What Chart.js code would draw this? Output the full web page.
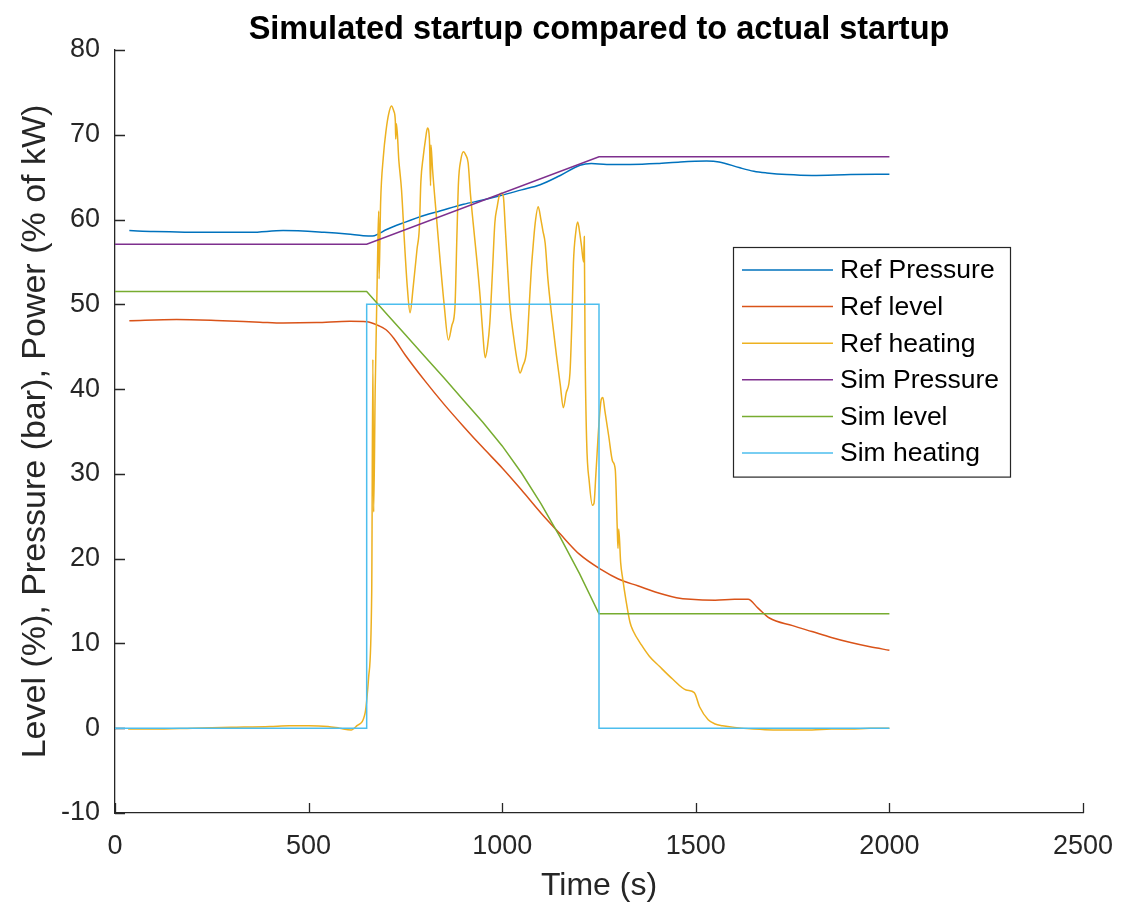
<!DOCTYPE html>
<html>
<head>
<meta charset="utf-8">
<title>Simulated startup compared to actual startup</title>
<script src="https://cdn.jsdelivr.net/npm/chart.js@4.4.1/dist/chart.umd.min.js"></script>
<style>
  html, body { margin: 0; padding: 0; background: #ffffff; }
  #wrap { width: 1124px; height: 913px; }
</style>
</head>
<body>
<div id="wrap"><canvas id="c" width="1124" height="913"></canvas></div>
<script>
// ---- data (time in s, values in %, bar or % of kW) ----
const refPressureT = [37, 100, 245, 350, 434, 540, 600, 641, 665, 680, 700, 750, 800, 839, 900, 950, 994, 1050, 1098, 1150, 1201, 1230, 1270, 1330, 1400, 1460, 1528, 1560, 1614, 1650, 1683, 1735, 1800, 1900, 2000];
const refPressureV = [58.7, 58.6, 58.5, 58.5, 58.7, 58.5, 58.3, 58.1, 58.05, 58.3, 58.8, 59.7, 60.5, 61.0, 61.8, 62.3, 62.8, 63.5, 64.1, 65.2, 66.4, 66.6, 66.5, 66.5, 66.6, 66.8, 66.9, 66.8, 66.1, 65.7, 65.5, 65.3, 65.2, 65.3, 65.35];

const refLevelT = [37, 159, 260, 374, 434, 520, 607, 650, 680, 700, 720, 750, 800, 850, 900, 950, 1000, 1050, 1100, 1150, 1200, 1256, 1300, 1350, 1415, 1450, 1487, 1550, 1600, 1635, 1660, 1690, 1750, 1800, 1850, 1900, 1950, 2000];
const refLevelV = [48.07, 48.2, 48.1, 47.9, 47.8, 47.85, 48.0, 47.95, 47.5, 47.0, 46.0, 44.0, 41.0, 38.2, 35.6, 33.1, 30.7, 28.1, 25.4, 22.9, 20.5, 18.7, 17.6, 16.8, 15.8, 15.4, 15.2, 15.1, 15.2, 15.2, 14.2, 13.0, 12.1, 11.4, 10.7, 10.1, 9.6, 9.2];

const refHeatingT = [34, 100, 200, 300, 400, 450, 500, 550, 580, 610, 625, 646, 655, 663, 666, 668, 672, 678, 681, 682, 686, 693, 700, 707, 714, 720, 724, 725, 727, 733, 740, 748, 755, 762, 770, 780, 786, 790, 796, 802, 807, 812, 815, 816, 820, 830, 840, 850, 861, 870, 878, 883, 887, 893, 900, 906, 912, 918, 925, 935, 943, 950, 956, 962, 968, 975, 981, 987, 993, 998, 1003, 1008, 1013, 1020, 1030, 1040, 1046, 1053, 1063, 1070, 1075, 1079, 1085, 1093, 1100, 1105, 1111, 1118, 1128, 1140, 1150, 1158, 1165, 1175, 1180, 1184, 1190, 1195, 1200, 1205, 1210, 1212, 1214, 1218, 1225, 1233, 1237, 1242, 1250, 1256, 1260, 1265, 1275, 1285, 1292, 1297, 1299, 1301, 1306, 1311, 1320, 1330, 1338, 1360, 1380, 1406, 1440, 1475, 1496, 1510, 1532, 1550, 1569, 1600, 1650, 1700, 1750, 1800, 1850, 1900, 1950, 2000];
const refHeatingV = [-0.1, -0.1, 0, 0.1, 0.2, 0.3, 0.3, 0.2, 0, -0.2, 0.3, 1.8, 6, 16, 43.5, 25.5, 40, 55, 61, 53, 62, 67.4, 70.5, 72.5, 73.4, 72.8, 71.6, 69.5, 71.3, 67, 63.5, 57, 52, 49, 52, 56.5, 59, 64.5, 67.4, 69.5, 70.8, 69.5, 64, 68.8, 66, 60.4, 55, 50, 45.8, 47.5, 49.7, 58, 64.3, 67, 68, 67.6, 66.7, 63, 59.6, 55, 50.9, 46.5, 43.7, 45, 47.8, 54, 59.6, 61.5, 62.9, 63.1, 62.7, 59, 55, 49.8, 46, 43, 41.9, 42.7, 44.6, 50, 54, 56.4, 59.5, 61.5, 60, 58.7, 57.2, 53, 48.6, 44, 40.5, 37.8, 39.5, 41.9, 48, 54.9, 58.5, 59.7, 58.5, 56.8, 55, 58, 45, 34, 29, 26.3, 26.5, 30, 36, 38.8, 39, 37.5, 34.5, 31.5, 30.5, 23.8, 21.2, 23.5, 19.5, 17.7, 15, 12.5, 11.5, 9.8, 8.5, 7.3, 5.8, 4.5, 4.2, 2.5, 1.0, 0.5, 0.3, 0.1, -0.1, -0.2, -0.2, -0.2, -0.1, -0.1, 0, 0];

const simPressureT = [0, 650, 1250, 2000];
const simPressureV = [57.1, 57.1, 67.4, 67.4];

const simLevelT = [0, 650, 700, 750, 800, 850, 900, 950, 1000, 1050, 1100, 1150, 1200, 1250, 2000];
const simLevelV = [51.5, 51.5, 48.95, 46.4, 43.85, 41.3, 38.7, 36.1, 33.3, 30.1, 26.5, 22.5, 18.2, 13.5, 13.5];

const simHeatingT = [0, 650, 650, 1250, 1250, 2000];
const simHeatingV = [0, 0, 50, 50, 0, 0];

const seriesLabels = ['Ref Pressure', 'Ref level', 'Ref heating', 'Sim Pressure', 'Sim level', 'Sim heating'];
const seriesColors = ['#0072BD', '#D95319', '#EDB120', '#7E2F8E', '#77AC30', '#4DBEEE'];

const xTicks = [0, 500, 1000, 1500, 2000, 2500];
const yTicks = [-10, 0, 10, 20, 30, 40, 50, 60, 70, 80];

const chartTitle = 'Simulated startup compared to actual startup';
const xTitle = 'Time (s)';
const yTitle = 'Level (%), Pressure (bar), Power (% of kW)';

// ---- helpers ----
const pairs = (t, v) => t.map((x, i) => ({ x: x, y: v[i] }));
const FONT = "'Liberation Sans', Arial, Helvetica, sans-serif";
const AXIS = '#262626';

const seriesData = [
  pairs(refPressureT, refPressureV),
  pairs(refLevelT, refLevelV),
  pairs(refHeatingT, refHeatingV),
  pairs(simPressureT, simPressureV),
  pairs(simLevelT, simLevelV),
  pairs(simHeatingT, simHeatingV)
];
// measured traces are drawn smoothed, simulated traces as straight segments
const smooth = [true, true, true, false, false, false];

const datasets = seriesLabels.map((label, i) => ({
  label: label,
  data: seriesData[i],
  borderColor: seriesColors[i],
  backgroundColor: seriesColors[i],
  borderWidth: 1.5,
  pointRadius: 0,
  fill: false,
  tension: 0,
  cubicInterpolationMode: smooth[i] ? 'monotone' : 'default',
  // later series are painted over earlier ones
  order: seriesLabels.length - i
}));

// title centred over the plot area
const plotTitle = {
  id: 'plotTitle',
  afterDraw(chart) {
    const { ctx, chartArea: a } = chart;
    ctx.save();
    ctx.font = 'bold 32.5px ' + FONT;
    ctx.fillStyle = '#000000';
    ctx.textAlign = 'center';
    ctx.textBaseline = 'alphabetic';
    ctx.fillText(chartTitle, (a.left + a.right) / 2, 39);
    ctx.restore();
  }
};

// inward tick marks on the left and bottom axes
const inwardTicks = {
  id: 'inwardTicks',
  beforeDatasetsDraw(chart) {
    const { ctx, chartArea: a, scales: { x, y } } = chart;
    ctx.save();
    ctx.strokeStyle = AXIS;
    ctx.lineWidth = 1.3;
    ctx.beginPath();
    xTicks.forEach(v => {
      const px = Math.round(x.getPixelForValue(v)) + 0.5;
      ctx.moveTo(px, a.bottom);
      ctx.lineTo(px, a.bottom - 10);
    });
    yTicks.forEach(v => {
      const py = Math.round(y.getPixelForValue(v)) + 0.5;
      ctx.moveTo(a.left, py);
      ctx.lineTo(a.left + 10, py);
    });
    ctx.stroke();
    ctx.restore();
  }
};

// boxed legend placed inside the plot
const boxLegend = {
  id: 'boxLegend',
  afterDraw(chart) {
    const { ctx } = chart;
    const left = 733, top = 247, width = 277, rowH = 36.6, pad = 4;
    const height = rowH * chart.data.datasets.length + pad * 2 + 2;
    ctx.save();
    ctx.fillStyle = '#ffffff';
    ctx.fillRect(left, top, width, height);
    ctx.strokeStyle = AXIS;
    ctx.lineWidth = 1.2;
    ctx.strokeRect(left + 0.5, top + 0.5, width, height);
    ctx.font = '26.5px ' + FONT;
    ctx.textBaseline = 'middle';
    ctx.textAlign = 'left';
    chart.data.datasets.forEach((ds, i) => {
      const cy = top + pad + 19 + i * rowH;
      ctx.strokeStyle = ds.borderColor;
      ctx.lineWidth = 1.5;
      ctx.beginPath();
      ctx.moveTo(742, cy);
      ctx.lineTo(833, cy);
      ctx.stroke();
      ctx.fillStyle = '#000000';
      ctx.fillText(ds.label, 840, cy + 1);
    });
    ctx.restore();
  }
};

Chart.defaults.font.family = FONT;
Chart.defaults.color = AXIS;

new Chart(document.getElementById('c'), {
  type: 'line',
  data: { datasets: datasets },
  plugins: [inwardTicks, boxLegend, plotTitle],
  options: {
    responsive: false,
    animation: false,
    events: [],
    layout: { padding: { top: 50, right: 41, bottom: 0, left: 0 } },
    plugins: {
      legend: { display: false },
      tooltip: { enabled: false },
      title: { display: false }
    },
    scales: {
      x: {
        type: 'linear',
        min: 0,
        max: 2500,
        afterFit(s) { s.height = 100; s.paddingLeft = 0; s.paddingRight = 0; },
        afterBuildTicks(s) { s.ticks = xTicks.map(v => ({ value: v })); },
        grid: { display: false, drawTicks: false },
        border: { display: true, color: AXIS, width: 1.3 },
        ticks: { padding: 17, maxRotation: 0, color: AXIS, font: { size: 27 }, callback: v => String(v) },
        title: { display: true, text: xTitle, color: AXIS, font: { size: 32 }, padding: { top: 0, bottom: 8 } }
      },
      y: {
        type: 'linear',
        min: -10,
        max: 80,
        afterFit(s) { s.width = 115; s.paddingTop = 0; s.paddingBottom = 0; },
        afterBuildTicks(s) { s.ticks = yTicks.map(v => ({ value: v })); },
        grid: { display: false, drawTicks: false },
        border: { display: true, color: AXIS, width: 1.3 },
        ticks: { padding: 15, color: AXIS, font: { size: 27 }, callback: v => String(v) },
        title: { display: true, text: yTitle, color: AXIS, font: { size: 34 }, padding: { top: 15, bottom: 0 } }
      }
    }
  }
});
</script>
</body>
</html>
